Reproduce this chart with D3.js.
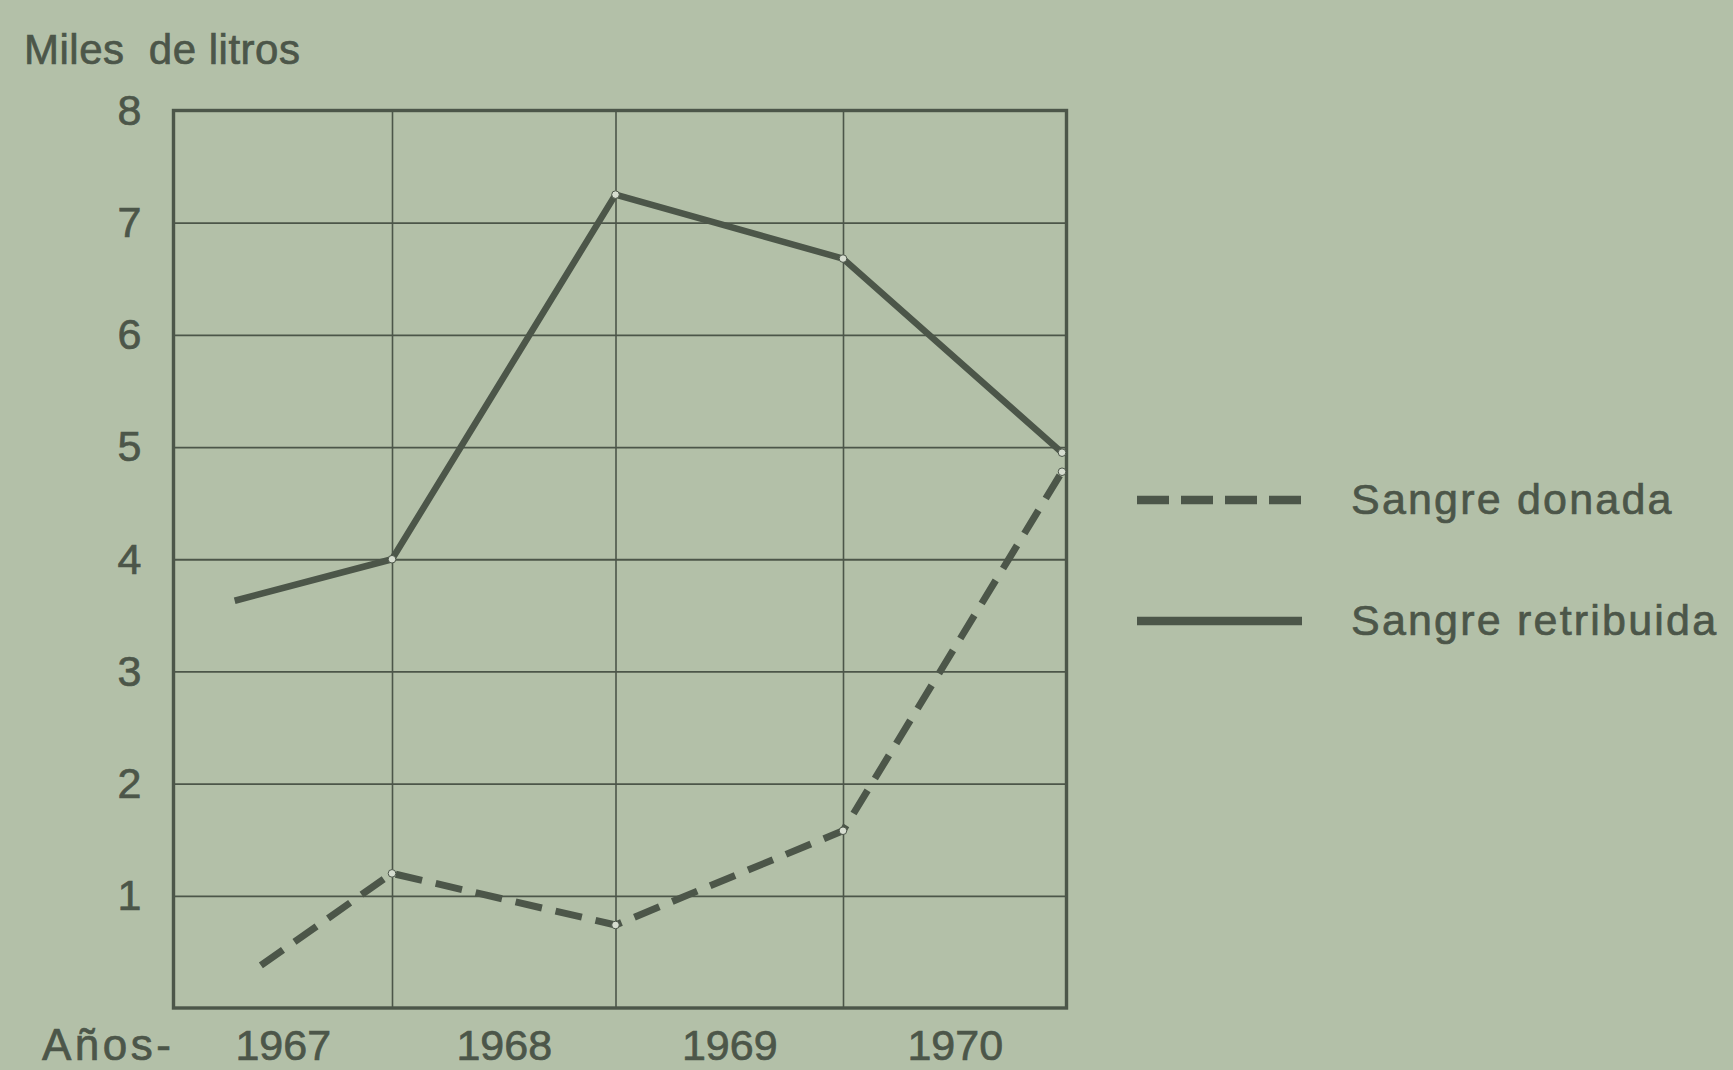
<!DOCTYPE html>
<html>
<head>
<meta charset="utf-8">
<script src="https://cdn.jsdelivr.net/npm/d3@7"></script>
<style>
  html, body { margin: 0; padding: 0; background: #b3c0a8; }
  svg { display: block; }
  text { font-family: "Liberation Sans", Arial, sans-serif; fill: #4c5649; stroke: #4c5649; stroke-width: 0.7px; }
</style>
</head>
<body>
<svg id="chart" width="1733" height="1070"></svg>
<script>
// ---- data ----
const yearLabels = ["1967", "1968", "1969", "1970"];
const yearBounds = [1967, 1968, 1969, 1970, 1971];
const yTicks = [1, 2, 3, 4, 5, 6, 7, 8];
const retribuidaX = [1967.28, 1968, 1969, 1970, 1970.98];
const retribuidaY = [3.63, 4.0, 7.25, 6.68, 4.95];
const donadaX = [1967.40, 1968, 1969, 1970, 1970.98];
const donadaY = [0.38, 1.20, 0.74, 1.58, 4.78];
const seriesNames = ["Sangre donada", "Sangre retribuida"];
const yTitle = "Miles  de litros";
const xTitle = "Años-";

// ---- layout ----
const W = 1733, H = 1070;
const plot = { left: 173.5, right: 1066.5, top: 110.5, bottom: 1008 };
const ink = "#4c5649";

const svg = d3.select("#chart");

// hand-drawn grid: year columns are not perfectly equal, so a piecewise scale
const x = d3.scaleLinear().domain(yearBounds).range([plot.left, 392, 615.5, 843, plot.right]);
const y = d3.scaleLinear().domain([0, 8]).range([plot.bottom, plot.top]);

svg.append("rect").attr("x", 0).attr("y", 0).attr("width", W).attr("height", H).attr("fill", "#b3c0a8");

// horizontal gridlines
const gridY = d3.axisLeft(y).tickValues(yTicks).tickSize(-(plot.right - plot.left)).tickFormat("");
svg.append("g").attr("transform", `translate(${plot.left},0)`).call(gridY)
  .call(g => g.select(".domain").remove())
  .call(g => g.selectAll("line").attr("stroke", ink).attr("stroke-width", 1.8));

// vertical gridlines
const gridX = d3.axisBottom(x).tickValues(yearBounds.slice(1, 4)).tickSize(-(plot.bottom - plot.top)).tickFormat("");
svg.append("g").attr("transform", `translate(0,${plot.bottom})`).call(gridX)
  .call(g => g.select(".domain").remove())
  .call(g => g.selectAll("line").attr("stroke", ink).attr("stroke-width", 1.6));

// frame
svg.append("rect")
  .attr("x", plot.left).attr("y", plot.top)
  .attr("width", plot.right - plot.left).attr("height", plot.bottom - plot.top)
  .attr("fill", "none").attr("stroke", ink).attr("stroke-width", 3.4);

// y tick labels
const yAxis = d3.axisLeft(y).tickValues(yTicks).tickSize(0).tickPadding(32).tickFormat(d3.format("d"));
svg.append("g").attr("transform", `translate(${plot.left},0)`).call(yAxis)
  .call(g => g.select(".domain").remove())
  .call(g => g.selectAll("text").attr("font-size", 43).attr("fill", ink)
    .attr("font-family", "Liberation Sans, Arial, sans-serif"));

// x labels (centred in each year column)
const xAxis = d3.axisBottom(x).tickValues(yearBounds.slice(0, 4).map(v => v + 0.5)).tickSize(0).tickPadding(0)
  .tickFormat((d, i) => yearLabels[i]);
const xg = svg.append("g").attr("transform", `translate(0,${plot.bottom})`).call(xAxis);
xg.select(".domain").remove();
xg.selectAll("text").attr("font-size", 43).attr("fill", ink).attr("dy", null).attr("y", 52)
  .attr("font-family", "Liberation Sans, Arial, sans-serif");

svg.append("text").attr("x", 42).attr("y", 1060).attr("font-size", 44)
  .attr("letter-spacing", 3.5).text(xTitle);

// y title
svg.append("text").attr("x", 24).attr("y", 64).attr("font-size", 42)
  .attr("letter-spacing", 0.5)
  .attr("xml:space", "preserve").style("white-space", "pre").text(yTitle);

// lines
const line = d3.line().x(d => x(d[0])).y(d => y(d[1]));
const retribuida = retribuidaX.map((v, i) => [v, retribuidaY[i]]);
const donada = donadaX.map((v, i) => [v, donadaY[i]]);

svg.append("path").datum(retribuida).attr("d", line)
  .attr("fill", "none").attr("stroke", ink).attr("stroke-width", 6.5)
  .attr("stroke-linejoin", "round");
svg.append("path").datum(donada).attr("d", line)
  .attr("fill", "none").attr("stroke", ink).attr("stroke-width", 7)
  .attr("stroke-dasharray", "27,14");

// small open markers at the year boundaries
[retribuida.slice(1), donada.slice(1)].forEach(pts => {
  svg.append("g").selectAll("circle").data(pts).join("circle")
    .attr("cx", d => x(d[0])).attr("cy", d => y(d[1])).attr("r", 3.8)
    .attr("fill", "#d6ddd0").attr("stroke", ink).attr("stroke-width", 1);
});

// legend
const legend = svg.append("g");
const legendRows = [
  { name: seriesNames[0], dash: "32,12", ly: 500 },
  { name: seriesNames[1], dash: null, ly: 621 }
];
legendRows.forEach(r => {
  legend.append("line").attr("x1", 1137).attr("x2", 1302).attr("y1", r.ly).attr("y2", r.ly)
    .attr("stroke", ink).attr("stroke-width", 8.5)
    .attr("stroke-dasharray", r.dash);
  legend.append("text").attr("x", 1351).attr("y", r.ly + 14).attr("font-size", 43)
    .attr("letter-spacing", 2.2).text(r.name);
});
</script>
</body>
</html>
